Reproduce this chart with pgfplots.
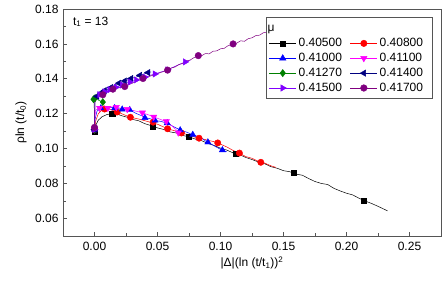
\documentclass[border=0pt]{standalone}
\usepackage{pgfplots}
\pgfplotsset{compat=1.18}
\usepackage{fontspec}
\setmainfont{Liberation Sans}
\definecolor{c405}{HTML}{000000}
\definecolor{c408}{HTML}{FF0000}
\definecolor{c410}{HTML}{0000FF}
\definecolor{c411}{HTML}{FF00FF}
\definecolor{c4127}{HTML}{008000}
\definecolor{c414}{HTML}{000080}
\definecolor{c415}{HTML}{8000FF}
\definecolor{c417}{HTML}{800080}
\definecolor{framec}{HTML}{555555}
\begin{document}
\begin{tikzpicture}
\useasboundingbox (0pt,0pt) rectangle (442pt,281pt);
\begin{axis}[
  at={(63pt,45pt)}, anchor=south west, scale only axis,
  width=378pt, height=227pt,
  xmin=-0.025, xmax=0.275, ymin=0.05, ymax=0.18,
  xtick={0,0.05,0.10,0.15,0.20,0.25},
  ytick={0.06,0.08,0.10,0.12,0.14,0.16,0.18},
  minor x tick num=1, minor y tick num=1,
  tick align=inside, xtick pos=bottom, ytick pos=left,
  major tick length=4pt, minor tick length=2.5pt,
  axis line style={framec, line width=0.8pt},
  tick style={framec, line width=0.8pt},
  /pgf/number format/assume math mode=true,
  /pgf/number format/fixed,
  /pgf/number format/fixed zerofill,
  /pgf/number format/precision=2,
  ticklabel style={font=\fontsize{12}{14}\selectfont},
  xticklabel style={yshift=-2.5pt},
  yticklabel style={xshift=-1pt},
  xlabel={|Δ|(ln (t/t\textsubscript{1}))\textsuperscript{2}},
  ylabel={ρln (t/t\textsubscript{0})},
  label style={font=\fontsize{12}{14}\selectfont},
  xlabel style={at={(axis description cs:0.5,-0.119)}, anchor=center},
  ylabel style={at={(axis description cs:-0.111,0.5)}, anchor=center},
  legend columns=2,
  legend cell align=left,
  legend image code/.code={\draw[mark repeat=2,mark phase=2] plot coordinates {(0pt,0pt) (13.6pt,0pt) (27.2pt,0pt)};},
  legend style={at={(0.5442,0.880)}, anchor=north west, draw=none, fill=none, inner sep=0pt,
    font=\fontsize{12}{12}\selectfont, row sep=1pt,
    /tikz/every even column/.append style={column sep=6pt}},
]
% ---------------- 0.40500 ----------------
\addplot[c405, line width=0.5pt, forget plot] table {
0.000 0.1105
0.001 0.1135
0.003 0.1163
0.006 0.1183
0.010 0.1196
0.014 0.1200
0.018 0.1198
0.022 0.1188
0.026 0.1180
0.030 0.1168
0.035 0.1160
0.040 0.1143
0.045 0.1132
0.050 0.1119
0.055 0.1110
0.060 0.1096
0.065 0.1090
0.070 0.1076
0.075 0.1068
0.080 0.1055
0.085 0.1046
0.090 0.1030
0.095 0.1018
0.100 0.1003
0.105 0.0992
0.110 0.0976
0.115 0.0966
0.120 0.0950
0.125 0.0938
0.130 0.0924
0.135 0.0914
0.140 0.0897
0.145 0.0888
0.150 0.0874
0.155 0.0868
0.160 0.0854
0.165 0.0848
0.170 0.0829
0.175 0.0812
0.180 0.0801
0.185 0.0795
0.190 0.0773
0.195 0.0758
0.200 0.0745
0.205 0.0735
0.210 0.0716
0.215 0.0700
0.220 0.0686
0.225 0.0670
0.2326 0.0644
};
\addplot[c405, only marks, mark=square*, mark size=2.6pt, forget plot] table {
0.000 0.1100
0.0141 0.1200
0.0465 0.1127
0.075 0.1067
0.112 0.0970
0.158 0.0862
0.2137 0.0703
};
% ---------------- 0.40800 ----------------
\addplot[c408, line width=0.5pt, forget plot] table {
0.000 0.1110
0.001 0.1160
0.003 0.1200
0.006 0.1222
0.009 0.1228
0.012 0.1226
0.016 0.1215
0.020 0.1205
0.025 0.1190
0.030 0.1178
0.035 0.1170
0.040 0.1160
0.045 0.1150
0.050 0.1140
0.055 0.1124
0.060 0.1110
0.065 0.1100
0.070 0.1088
0.075 0.1078
0.080 0.1065
0.085 0.1058
0.090 0.1048
0.095 0.1040
0.100 0.1026
0.105 0.1010
0.110 0.0990
0.115 0.0975
0.120 0.0955
0.125 0.0945
0.130 0.0928
0.135 0.0918
0.140 0.0902
0.144 0.0893
};
\addplot[c408, only marks, mark=*, mark size=3.2pt, forget plot] table {
0.000 0.1110
0.008 0.1227
0.018 0.1210
0.0285 0.1180
0.0465 0.1152
0.058 0.1114
0.069 0.1090
0.083 0.1060
0.0978 0.1033
0.115 0.0975
0.132 0.0922
};
% ---------------- 0.41000 ----------------
\addplot[c410, line width=0.5pt, forget plot] table {
0.000 0.1110
0.0005 0.1170
0.002 0.1215
0.005 0.1232
0.009 0.1238
0.013 0.1236
0.017 0.1232
0.021 0.1226
0.025 0.1224
0.029 0.1218
0.033 0.1202
0.037 0.1190
0.041 0.1177
0.045 0.1170
0.049 0.1160
0.053 0.1156
0.057 0.1147
0.061 0.1133
0.065 0.1118
0.069 0.1104
0.073 0.1095
0.077 0.1083
0.081 0.1072
0.085 0.1060
0.089 0.1040
0.093 0.1025
0.097 0.1008
0.101 0.0993
0.105 0.0982
};
\addplot[c410, only marks, mark=triangle*, mark size=3.6pt, forget plot] table {
0.000 0.1110
0.005 0.1232
0.016 0.1233
0.022 0.1225
0.028 0.1222
0.040 0.1177
0.048 0.1162
0.0577 0.1147
0.068 0.1106
0.078 0.1080
0.090 0.1037
0.1015 0.0992
};
% ---------------- 0.41100 ----------------
\addplot[c411, line width=0.5pt, forget plot] table {
0.000 0.1110
0.0003 0.1180
0.001 0.1220
0.003 0.1232
0.006 0.1236
0.010 0.1234
0.014 0.1240
0.018 0.1236
0.022 0.1230
0.026 0.1226
0.030 0.1220
0.034 0.1213
0.038 0.1205
0.042 0.1196
0.046 0.1185
0.050 0.1174
0.054 0.1163
0.058 0.1150
0.062 0.1128
0.066 0.1100
0.068 0.1092
};
\addplot[c411, only marks, mark=triangle*, mark options={rotate=180}, mark size=3.6pt, forget plot] table {
0.000 0.1110
0.004 0.1233
0.0106 0.1233
0.0173 0.1238
0.026 0.1226
0.038 0.1206
0.047 0.1182
0.057 0.1156
0.0665 0.1092
};
% ---------------- 0.41270 ----------------
\addplot[c4127, line width=0.5pt, forget plot] table {
0.000 0.1110
0.000 0.1200
-0.0005 0.1280
0.000 0.1290
0.002 0.1282
0.004 0.1275
0.0066 0.1267
0.008 0.1262
};
\addplot[c4127, only marks, mark=diamond*, mark size=3.6pt, forget plot] table {
0.000 0.1110
-0.0008 0.1283
0.0005 0.1290
0.0066 0.1267
};
% ---------------- 0.41400 ----------------
\addplot[c414, line width=0.5pt, forget plot] table {
0.000 0.1110
0.0003 0.1275
0.002 0.1300
0.005 0.1318
0.009 0.1335
0.013 0.1350
0.017 0.1368
0.021 0.1378
0.025 0.1390
0.029 0.1402
0.033 0.1410
0.037 0.1422
0.041 0.1432
0.045 0.1440
};
\addplot[c414, only marks, mark=triangle*, mark options={rotate=90}, mark size=3.6pt, forget plot] table {
0.000 0.1110
0.002 0.1300
0.005 0.1318
0.008 0.1333
0.013 0.1350
0.0194 0.1375
0.024 0.1388
0.029 0.1402
0.036 0.1420
0.0425 0.1436
};
% ---------------- 0.41500 ----------------
\addplot[c415, line width=0.5pt, forget plot] table {
0.000 0.1110
0.0003 0.1270
0.002 0.1295
0.005 0.1312
0.009 0.1328
0.013 0.1340
0.017 0.1352
0.021 0.1362
0.025 0.1375
0.029 0.1384
0.033 0.1394
0.037 0.1402
0.041 0.1412
0.045 0.1422
0.049 0.1430
0.053 0.1440
0.057 0.1448
0.061 0.1462
0.065 0.1475
0.069 0.1488
0.073 0.1500
0.076 0.1505
};
\addplot[c415, only marks, mark=triangle*, mark options={rotate=-90}, mark size=3.6pt, forget plot] table {
0.000 0.1110
0.004 0.1310
0.008 0.1326
0.012 0.1338
0.017 0.1352
0.022 0.1365
0.028 0.1382
0.033 0.1394
0.040 0.1410
0.048 0.1428
0.058 0.1452
0.072 0.1497
};
% ---------------- 0.41700 ----------------
\addplot[c417, line width=0.5pt, forget plot] table {
0.000 0.1122
0.0003 0.1265
0.002 0.1290
0.0066 0.1309
0.010 0.1325
0.0146 0.1341
0.019 0.1348
0.024 0.1356
0.030 0.1375
0.0385 0.1402
0.044 0.1415
0.050 0.1430
0.058 0.1450
0.061 0.1462
0.064 0.1468
0.067 0.1482
0.070 0.1488
0.073 0.1503
0.076 0.1508
0.079 0.1522
0.0824 0.1530
0.085 0.1532
0.088 0.1545
0.091 0.1543
0.094 0.1558
0.097 0.1560
0.100 0.1572
0.103 0.1575
0.106 0.1590
0.110 0.1598
0.113 0.1605
0.116 0.1618
0.119 0.1615
0.122 0.1630
0.125 0.1635
0.128 0.1648
0.131 0.1650
0.134 0.1664
0.137 0.1668
0.139 0.1684
};
\addplot[c417, only marks, mark=*, mark size=3.3pt, forget plot] table {
0.000 0.1122
0.0066 0.1309
0.0146 0.1341
0.024 0.1356
0.0385 0.1402
0.058 0.1450
0.0824 0.1533
0.110 0.1600
};
% legend box and title
\draw[framec, fill=white, line width=0.6pt] (rel axis cs:0.539,0.6048) rectangle (rel axis cs:0.976,0.9617);
\node[anchor=west, inner sep=0pt, font=\fontsize{12}{12}\selectfont] at (rel axis cs:0.541,0.9106) {μ};
\node[anchor=west, inner sep=0pt, font=\fontsize{12}{12}\selectfont] at (rel axis cs:0.026,0.944) {t\textsubscript{1} = 13};
% legend entries
\addlegendimage{c405, line width=0.5pt, mark=square*, mark size=2.6pt}
\addlegendentry{0.40500}
\addlegendimage{c408, line width=0.5pt, mark=*, mark size=3.2pt}
\addlegendentry{0.40800}
\addlegendimage{c410, line width=0.5pt, mark=triangle*, mark size=3.6pt}
\addlegendentry{0.41000}
\addlegendimage{c411, line width=0.5pt, mark=triangle*, mark options={rotate=180}, mark size=3.6pt}
\addlegendentry{0.41100}
\addlegendimage{c4127, line width=0.5pt, mark=diamond*, mark size=3.6pt}
\addlegendentry{0.41270}
\addlegendimage{c414, line width=0.5pt, mark=triangle*, mark options={rotate=90}, mark size=3.6pt}
\addlegendentry{0.41400}
\addlegendimage{c415, line width=0.5pt, mark=triangle*, mark options={rotate=-90}, mark size=3.6pt}
\addlegendentry{0.41500}
\addlegendimage{c417, line width=0.5pt, mark=*, mark size=3.3pt}
\addlegendentry{0.41700}
\end{axis}
\end{tikzpicture}
\end{document}
